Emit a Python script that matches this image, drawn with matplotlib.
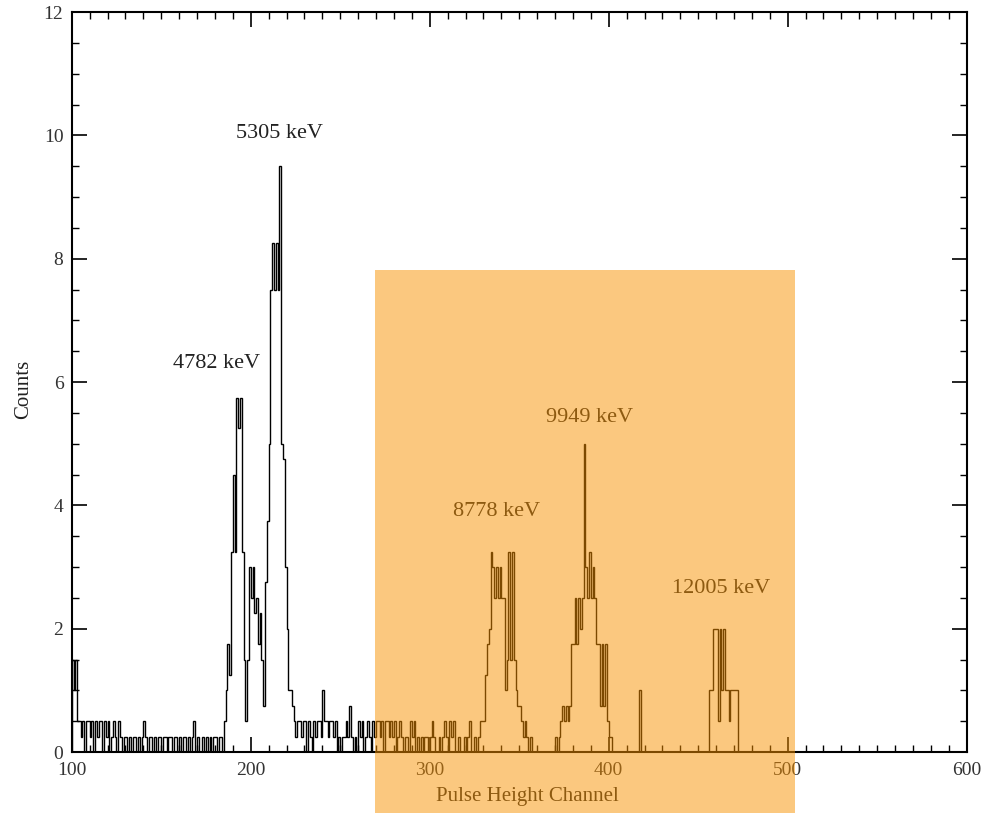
import numpy as np
import matplotlib
matplotlib.use("Agg")
import matplotlib.pyplot as plt
from matplotlib.patches import Rectangle
from matplotlib.ticker import MultipleLocator

plt.rcParams['font.family'] = ['Liberation Serif', 'DejaVu Serif']

# ---- data: counts per pulse-height channel (1-channel bins, starting at 100) ----
first_channel = 100
counts_100_185 = [1.5, 1.0, 1.5, 0.5, 0.5, 0.25, 0.5, 0, 0.5, 0.5,
                  0.25, 0.5, 0, 0.5, 0.25, 0.5, 0.5, 0, 0.5, 0.25,
                  0.5, 0, 0.25, 0.5, 0.25, 0, 0.5, 0.25, 0, 0.25,
                  0.25, 0, 0.25, 0, 0.25, 0.25, 0, 0.25, 0, 0.25,
                  0.5, 0.25, 0, 0.25, 0.25, 0, 0.25, 0, 0.25, 0.25,
                  0, 0.25, 0.25, 0, 0.25, 0.25, 0, 0.25, 0.25, 0,
                  0.25, 0, 0.25, 0.25, 0, 0.25, 0, 0.25, 0.5, 0,
                  0.25, 0, 0, 0.25, 0, 0.25, 0, 0.25, 0, 0.25,
                  0.25, 0, 0.25, 0.25, 0, 0.5]
counts_186_226 = [1.0, 1.75, 1.25, 3.25, 4.5, 3.25, 5.75, 5.25, 5.75, 3.25,
                  1.5, 0.5, 1.5, 3.0, 2.5, 3.0, 2.25, 2.5, 1.75, 2.25,
                  1.5, 0.75, 2.75, 3.75, 5.0, 7.5, 8.25, 7.5, 8.25, 7.5,
                  9.5, 5.0, 4.75, 3.0, 2.0, 1.0, 1.0, 0.75, 0.5, 0.25,
                  0.5]
counts_227_329 = [0.5, 0.25, 0.5, 0.5, 0, 0.5, 0.25, 0, 0.5, 0.25,
                  0.5, 0.5, 0.25, 1.0, 0.5, 0.5, 0.25, 0.5, 0.5, 0.25,
                  0.5, 0, 0.25, 0, 0.25, 0.25, 0.5, 0.25, 0.75, 0.25,
                  0, 0.25, 0, 0.5, 0.25, 0.5, 0, 0.25, 0.5, 0.25,
                  0, 0.5, 0.25, 0.5, 0.5, 0.25, 0.5, 0, 0.5, 0.5,
                  0.25, 0.5, 0.25, 0.5, 0, 0.25, 0.5, 0.25, 0, 0.25,
                  0.25, 0, 0.5, 0.25, 0.5, 0, 0.25, 0, 0.25, 0,
                  0.25, 0.25, 0, 0.25, 0.5, 0.25, 0, 0, 0.25, 0,
                  0.25, 0.5, 0.25, 0, 0.5, 0.25, 0.5, 0, 0, 0.25,
                  0, 0, 0.25, 0, 0.25, 0.5, 0, 0, 0.25, 0,
                  0.25, 0.5, 0.5]
counts_330_372 = [0.5, 1.25, 1.75, 2.0, 3.25, 3.0, 2.5, 3.0, 2.5, 3.0,
                  2.5, 2.5, 1.0, 1.5, 3.25, 1.5, 3.25, 1.5, 1.0, 0.75,
                  0.75, 0.5, 0.25, 0.5, 0.25, 0, 0.25, 0, 0, 0,
                  0, 0, 0, 0, 0, 0, 0, 0, 0, 0,
                  0.25, 0, 0.25]
counts_373_420 = [0.5, 0.75, 0.5, 0.75, 0.5, 0.75, 1.75, 1.75, 2.5, 1.75,
                  2.5, 2.0, 2.5, 5.0, 3.0, 2.5, 3.25, 2.5, 3.0, 2.5,
                  1.75, 1.75, 0.75, 1.75, 0.75, 1.75, 0.5, 0.25, 0.25, 0,
                  0, 0, 0, 0, 0, 0, 0, 0, 0, 0,
                  0, 0, 0, 0, 1.0, 0, 0, 0]
counts_421_472 = [0, 0, 0, 0, 0, 0, 0, 0, 0, 0,
                  0, 0, 0, 0, 0, 0, 0, 0, 0, 0,
                  0, 0, 0, 0, 0, 0, 0, 0, 0, 0,
                  0, 0, 0, 0, 0, 1.0, 1.0, 2.0, 2.0, 2.0,
                  0.5, 2.0, 1.0, 2.0, 1.0, 1.0, 0.5, 1.0, 1.0, 1.0,
                  1.0, 0]

peak_labels = ["5305 keV", "4782 keV", "8778 keV", "9949 keV", "12005 keV"]
peak_label_x = [216, 181, 337.5, 389.5, 463]
peak_label_y = [10.03, 6.3, 3.9, 5.42, 2.65]

x_ticks = [100, 200, 300, 400, 500, 600]
y_ticks = [0, 2, 4, 6, 8, 10, 12]

highlight_x = (269.5, 504.0)
highlight_y = (-1.3, 7.82)

# ---- figure ----
counts = np.array(counts_100_185 + counts_186_226 + counts_227_329 +
                  counts_330_372 + counts_373_420 + counts_421_472, dtype=float)
edges = first_channel + np.arange(len(counts) + 1)

fig = plt.figure(figsize=(9.84, 8.13), dpi=100)
ax = fig.add_axes([0.0729, 0.075, 0.9095, 0.910])

ax.stairs(counts, edges, color='black', linewidth=1.0, baseline=0)

for lab, lx, ly in zip(peak_labels, peak_label_x, peak_label_y):
    ax.text(lx, ly, lab, ha='center', va='center', fontsize=16, color='#222222')

ax.set_xlim(x_ticks[0], x_ticks[-1])
ax.set_ylim(y_ticks[0], y_ticks[-1])
ax.set_xticks(x_ticks)
ax.set_yticks(y_ticks)
ax.xaxis.set_minor_locator(MultipleLocator(10))
ax.yaxis.set_minor_locator(MultipleLocator(0.5))
ax.tick_params(which='both', direction='in', top=True, right=True,
               labelsize=14, labelcolor='#333333')
ax.tick_params(which='major', length=11, width=1.2)
ax.tick_params(axis='x', which='major', pad=7)
ax.tick_params(axis='y', which='major', pad=6)
ax.tick_params(which='minor', length=5, width=1.0)
for sp in ax.spines.values():
    sp.set_linewidth(1.5)

ax.set_xlabel("Pulse Height Channel", fontsize=15, color='#222222')
ax.set_ylabel("Counts", fontsize=15, color='#222222')
ax.xaxis.set_label_coords(0.509, -0.047)
ax.yaxis.set_label_coords(-0.043, 0.49)

rect = Rectangle((highlight_x[0], highlight_y[0]),
                 highlight_x[1] - highlight_x[0],
                 highlight_y[1] - highlight_y[0],
                 facecolor='#F99200', alpha=0.5, edgecolor='none',
                 zorder=10, clip_on=False)
ax.add_patch(rect)

fig.savefig("out.png", dpi=100)
